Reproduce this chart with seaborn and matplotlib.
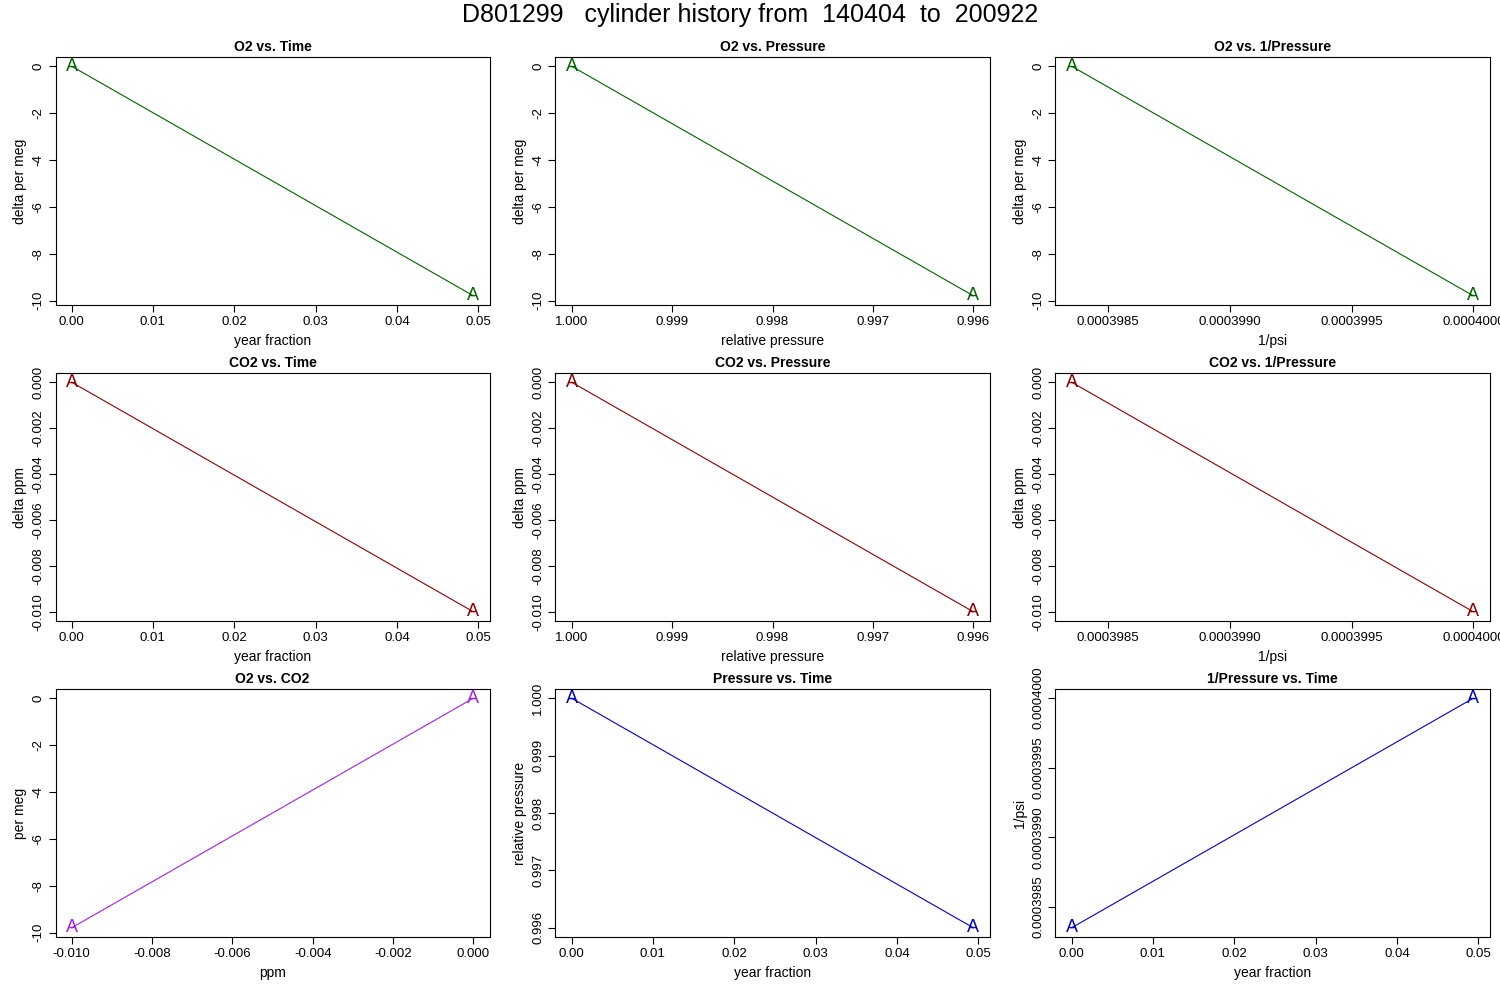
import numpy as np
import pandas as pd
import matplotlib
matplotlib.use("Agg")
import matplotlib.pyplot as plt
from matplotlib.ticker import FormatStrFormatter
import seaborn as sns

# data (two cylinder points labelled "A")
year_frac = [0.0, 0.0494]
rel_press = [1.000, 0.996]
inv_psi = [0.00039835, 0.0004000]
o2_delta = [0.0, -9.8]
co2_delta = [0.0, -0.010]

sns.set_style("ticks")
plt.rcParams["font.family"] = ["Liberation Sans", "DejaVu Sans"]
plt.rcParams["text.color"] = "black"
plt.rcParams["axes.labelcolor"] = "black"
plt.rcParams["xtick.color"] = "black"
plt.rcParams["ytick.color"] = "black"

green = "#006400"
red = "#8B0000"
purple = "#A020F0"
blue = "#0000CD"

panels = [
    ("O2 vs. Time", year_frac, o2_delta, "year fraction", "delta per meg", green, "%.2f", "%d", False),
    ("O2 vs. Pressure", rel_press, o2_delta, "relative pressure", "delta per meg", green, "%.3f", "%d", True),
    ("O2 vs. 1/Pressure", inv_psi, o2_delta, "1/psi", "delta per meg", green, "%.7f", "%d", False),
    ("CO2 vs. Time", year_frac, co2_delta, "year fraction", "delta ppm", red, "%.2f", "%.3f", False),
    ("CO2 vs. Pressure", rel_press, co2_delta, "relative pressure", "delta ppm", red, "%.3f", "%.3f", True),
    ("CO2 vs. 1/Pressure", inv_psi, co2_delta, "1/psi", "delta ppm", red, "%.7f", "%.3f", False),
    ("O2 vs. CO2", co2_delta, o2_delta, "ppm", "per meg", purple, "%.3f", "%d", False),
    ("Pressure vs. Time", year_frac, rel_press, "year fraction", "relative pressure", blue, "%.2f", "%.3f", False),
    ("1/Pressure vs. Time", year_frac, inv_psi, "year fraction", "1/psi", blue, "%.2f", "%.7f", False),
]

xticks = {
    "year fraction": [0, 0.01, 0.02, 0.03, 0.04, 0.05],
    "relative pressure": [1.000, 0.999, 0.998, 0.997, 0.996],
    "1/psi": [0.0003985, 0.0003990, 0.0003995, 0.0004000],
    "ppm": [-0.010, -0.008, -0.006, -0.004, -0.002, 0.000],
}
yticks = {
    "delta per meg": [0, -2, -4, -6, -8, -10],
    "per meg": [0, -2, -4, -6, -8, -10],
    "delta ppm": [0, -0.002, -0.004, -0.006, -0.008, -0.010],
    "relative pressure": [1.000, 0.999, 0.998, 0.997, 0.996],
    "1/psi": [0.0003985, 0.0003990, 0.0003995, 0.0004000],
}

fig, axes = plt.subplots(3, 3, figsize=(15, 10), dpi=100)
fig.subplots_adjust(left=0.037, right=0.993, top=0.943, bottom=0.063, wspace=0.152, hspace=0.274)

for ax, (title, x, y, xl, yl, col, xf, yf, rev) in zip(axes.flat, panels):
    df = pd.DataFrame({"x": x, "y": y})
    sns.lineplot(data=df, x="x", y="y", ax=ax, color=col, lw=0.8, sort=False)
    for xi, yi in zip(x, y):
        ax.text(xi, yi, "A", color=col, fontsize=13, ha="center", va="center")
    xr = max(x) - min(x)
    yr = max(y) - min(y)
    if rev:
        ax.set_xlim(max(x) + 0.04 * xr, min(x) - 0.04 * xr)
    else:
        ax.set_xlim(min(x) - 0.04 * xr, max(x) + 0.04 * xr)
    ax.set_ylim(min(y) - 0.04 * yr, max(y) + 0.04 * yr)
    ax.set_xticks(xticks[xl])
    ax.set_yticks(yticks[yl])
    ax.xaxis.set_major_formatter(FormatStrFormatter(xf))
    ax.yaxis.set_major_formatter(FormatStrFormatter(yf))
    ax.tick_params(axis="both", labelsize=9.5, length=5, pad=3)
    plt.setp(ax.get_yticklabels(), rotation=90, va="center")
    ax.set_title(title, fontsize=10, fontweight="bold", pad=4)
    ax.set_xlabel(xl, fontsize=10, labelpad=4)
    ax.set_ylabel(yl, fontsize=10, labelpad=4)
    for s in ax.spines.values():
        s.set_linewidth(0.8)
        s.set_color("black")

fig.suptitle("D801299   cylinder history from  140404  to  200922", fontsize=18, y=0.997)
fig.savefig("out.png", dpi=100)
